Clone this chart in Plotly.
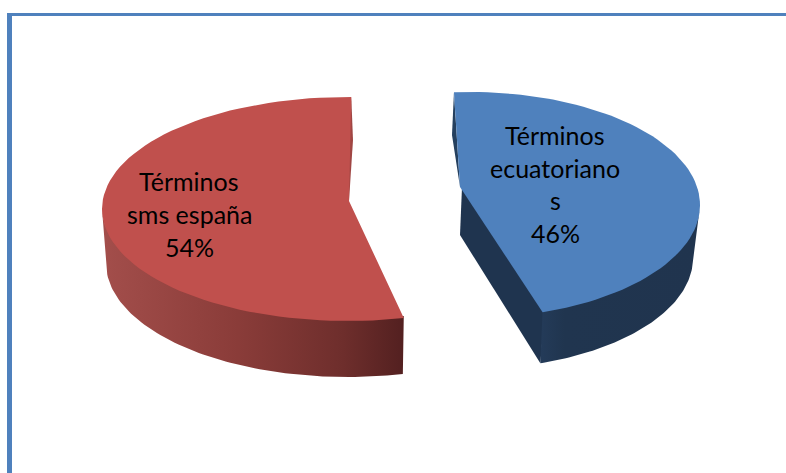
import numpy as np
import plotly.graph_objects as go

CATEGORIES = ["Términos ecuatorianos", "Términos sms españa"]
SHARES = [46, 54]
BLUE_LABEL = ["Términos", "ecuatoriano", "s", "46%"]
RED_LABEL = ["Términos", "sms españa", "54%"]

FONT = "Lato"
FRAME = "#4F81BD"


def arc(cx, cy, a, b, t0, t1):
    t = np.radians(np.linspace(t0, t1, 80))
    return cx + a * np.cos(t), cy + b * np.sin(t)


def poly(fig, x, y, color=None, gradient=None):
    kw = dict(fillgradient=gradient) if gradient else dict(fillcolor=color)
    fig.add_trace(go.Scatter(
        x=list(x), y=list(y), fill="toself", mode="lines",
        line=dict(width=0), hoverinfo="skip", showlegend=False, **kw
    ))


def grad(*stops):
    return dict(type="horizontal", colorscale=list(stops))


fig = go.Figure()

# screen y points down, so angles run clockwise from the right
# blue slice: starts just past the top and sweeps clockwise
b_start = -94
b_end = b_start + SHARES[0] * 3.6
bx, by, ba, bb = 470, 205, 230, 113
bx2, by2, ba2, bb2 = 470, 258, 223, 111
apex_b = (460, 187)
apex_b2 = (460, 235)

# red slice: starts at the top and sweeps counter clockwise
r_start = -89
r_end = r_start - SHARES[1] * 3.6
rx, ry, ra, rb = 347, 209, 245, 112
rx2, ry2, ra2, rb2 = 347, 263, 241, 114
apex_r = (349, 201)
apex_r2 = (344, 193)

# red outer wall, its upper edge tucked under the top face
ux, uy = arc(rx, ry, ra, rb, r_end + 360, 178)
lx, ly = arc(rx2, ry2, ra2, rb2, 178, r_end + 360)
poly(fig, np.r_[ux, lx], np.r_[uy - 2, ly],
     gradient=grad((0, "#A34E4B"), (0.45, "#8A3C39"), (0.8, "#6E2E2C"), (1, "#532020")))

# red inner sliver near the top
sx, sy = arc(rx, ry, ra, rb, r_start, r_start)
poly(fig, [sx[0], 353, apex_r[0], apex_r2[0]], [sy[0], 140, apex_r[1], apex_r2[1]], color="#A04643")

# red top face
tx, ty = arc(rx, ry, ra, rb, r_start, r_end)
poly(fig, np.r_[tx, apex_r[0]], np.r_[ty, apex_r[1]], color="#C0504D")

# blue cut wall
fx, fy = arc(bx, by, ba, bb, b_end, b_end)
gx, gy = arc(bx2, by2, ba2, bb2, b_end, b_end)
poly(fig, [apex_b[0] + 2, fx[0] + 2, gx[0], apex_b2[0]], [apex_b[1], fy[0], gy[0], apex_b2[1]], color="#1F344F")

# blue outer wall
ux, uy = arc(bx, by, ba, bb, 2, b_end)
lx, ly = arc(bx2, by2, ba2, bb2, b_end, 2)
poly(fig, np.r_[ux, lx], np.r_[uy - 2, ly],
     gradient=grad((0, "#243B59"), (0.15, "#20354F"), (1, "#20344E")))

# blue inner sliver near the top
sx, sy = arc(bx, by, ba, bb, b_start, b_start)
poly(fig, [sx[0], 452, apex_b[0]], [sy[0], 135, apex_b[1]], color="#25405F")

# blue top face
tx, ty = arc(bx, by, ba, bb, b_start, b_end)
poly(fig, np.r_[tx, apex_b[0]], np.r_[ty, apex_b[1]], color="#4F81BD")

# the frame of the original chart box
fig.add_shape(type="rect", x0=7, x1=12, y0=13, y1=473, fillcolor=FRAME, line_width=0)
fig.add_shape(type="rect", x0=7, x1=786, y0=13, y1=16, fillcolor=FRAME, line_width=0)

for i, txt in enumerate(BLUE_LABEL):
    fig.add_annotation(x=555, y=135 + i * 32.5, text=txt, showarrow=False,
                       font=dict(family=FONT, size=25, color="black"))
for i, txt in enumerate(RED_LABEL):
    fig.add_annotation(x=189, y=181 + i * 33, text=txt, showarrow=False,
                       font=dict(family=FONT, size=25, color="black"))

fig.update_layout(
    width=786, height=473, margin=dict(l=0, r=0, t=0, b=0),
    paper_bgcolor="white", plot_bgcolor="white", showlegend=False,
    xaxis=dict(range=[0, 786], visible=False, fixedrange=True),
    yaxis=dict(range=[473, 0], visible=False, fixedrange=True),
)

fig.write_html("out.html", config=dict(displayModeBar=False),
               post_script="document.body.style.margin='0';document.body.style.overflow='hidden';")
